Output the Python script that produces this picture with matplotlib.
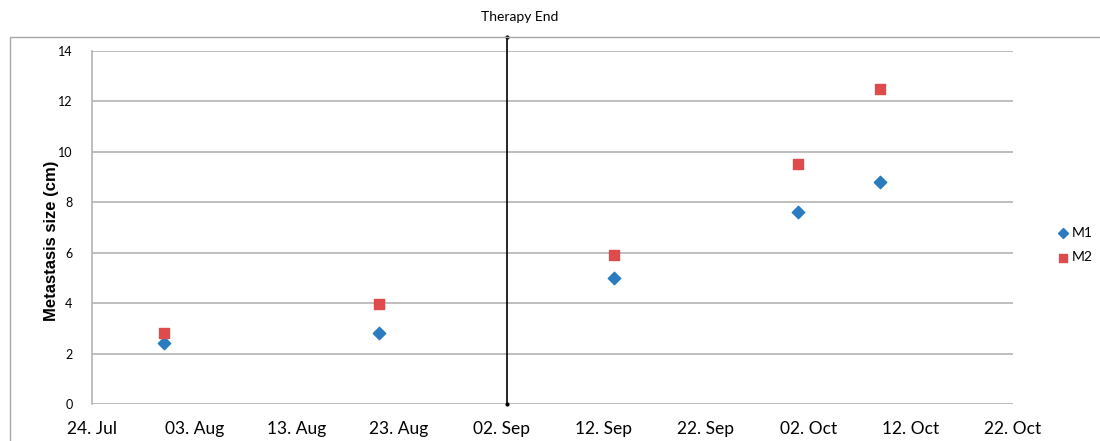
import matplotlib
matplotlib.use("Agg")
from matplotlib import pyplot as plt
import matplotlib.dates as mdates
from matplotlib.patches import Rectangle
import numpy as np
import datetime as dt

# measurement dates and metastasis sizes
dates = [dt.date(2013, 7, 31), dt.date(2013, 8, 21), dt.date(2013, 9, 13),
         dt.date(2013, 10, 1), dt.date(2013, 10, 9)]
m1 = [2.4, 2.8, 5.0, 7.6, 8.8]
m2 = [2.8, 3.95, 5.9, 9.5, 12.5]
therapyEnd = dt.datetime(2013, 9, 2, 14)
xStart = dt.date(2013, 7, 24)
xEnd = dt.date(2013, 10, 22)

plt.rcParams['font.family'] = ['Lato', 'DejaVu Sans']

fig = plt.figure(figsize=(11, 4.41), dpi=100)
ax = fig.add_axes([0.0836, 0.0839, 0.8373, 0.8005])

ax.scatter(dates, m1, marker="D", s=40, color="#2a7bbf", label="M1", zorder=3)
ax.scatter(dates, m2, marker="s", s=60, color="#e04a4a", label="M2", zorder=3)

# therapy end marker line, runs above the plot area
ax.plot([therapyEnd, therapyEnd], [0, 14.57], color="black", lw=1.2,
        marker="o", markersize=2, clip_on=False, zorder=4)
fig.text(520 / 1100, 1 - 17 / 441, "Therapy End", ha="center", va="center", fontsize=10)

ax.set_xlim(xStart, xEnd)
ax.set_ylim(0, 14)
ax.set_yticks(np.arange(0, 15, 2))
ax.set_xticks([xStart + dt.timedelta(days=10 * k) for k in range(10)])
ax.xaxis.set_major_formatter(mdates.DateFormatter("%d. %b"))

ax.grid(axis="y", color="#b3b3b3", lw=1.2)
ax.set_axisbelow(True)
for s in ["top", "right", "bottom"]:
    ax.spines[s].set_visible(False)
ax.spines["left"].set_color("#b3b3b3")
ax.spines["left"].set_linewidth(1.2)
ax.tick_params(axis="both", length=0)
ax.tick_params(axis="x", labelsize=12.5, pad=12)
ax.tick_params(axis="y", labelsize=9, pad=14)
ax.set_ylabel("Metastasis size (cm)", fontsize=12, fontweight="bold",
              family=["Liberation Sans", "DejaVu Sans"])
ax.yaxis.set_label_coords(-0.036, 0.462)

ax.legend(loc="center left", bbox_to_anchor=(1.035, 0.45), frameon=False,
          fontsize=10, handletextpad=0.0, handlelength=1.2, borderpad=0.2,
          labelspacing=0.9, markerscale=0.8)

# outer chart border
fig.patches.append(Rectangle((10 / 1100, -0.05), 1.0, 1 - 37 / 441 + 0.05,
                             transform=fig.transFigure, fill=False,
                             edgecolor="#a6a6a6", lw=1))

fig.savefig("out.png", dpi=100)
